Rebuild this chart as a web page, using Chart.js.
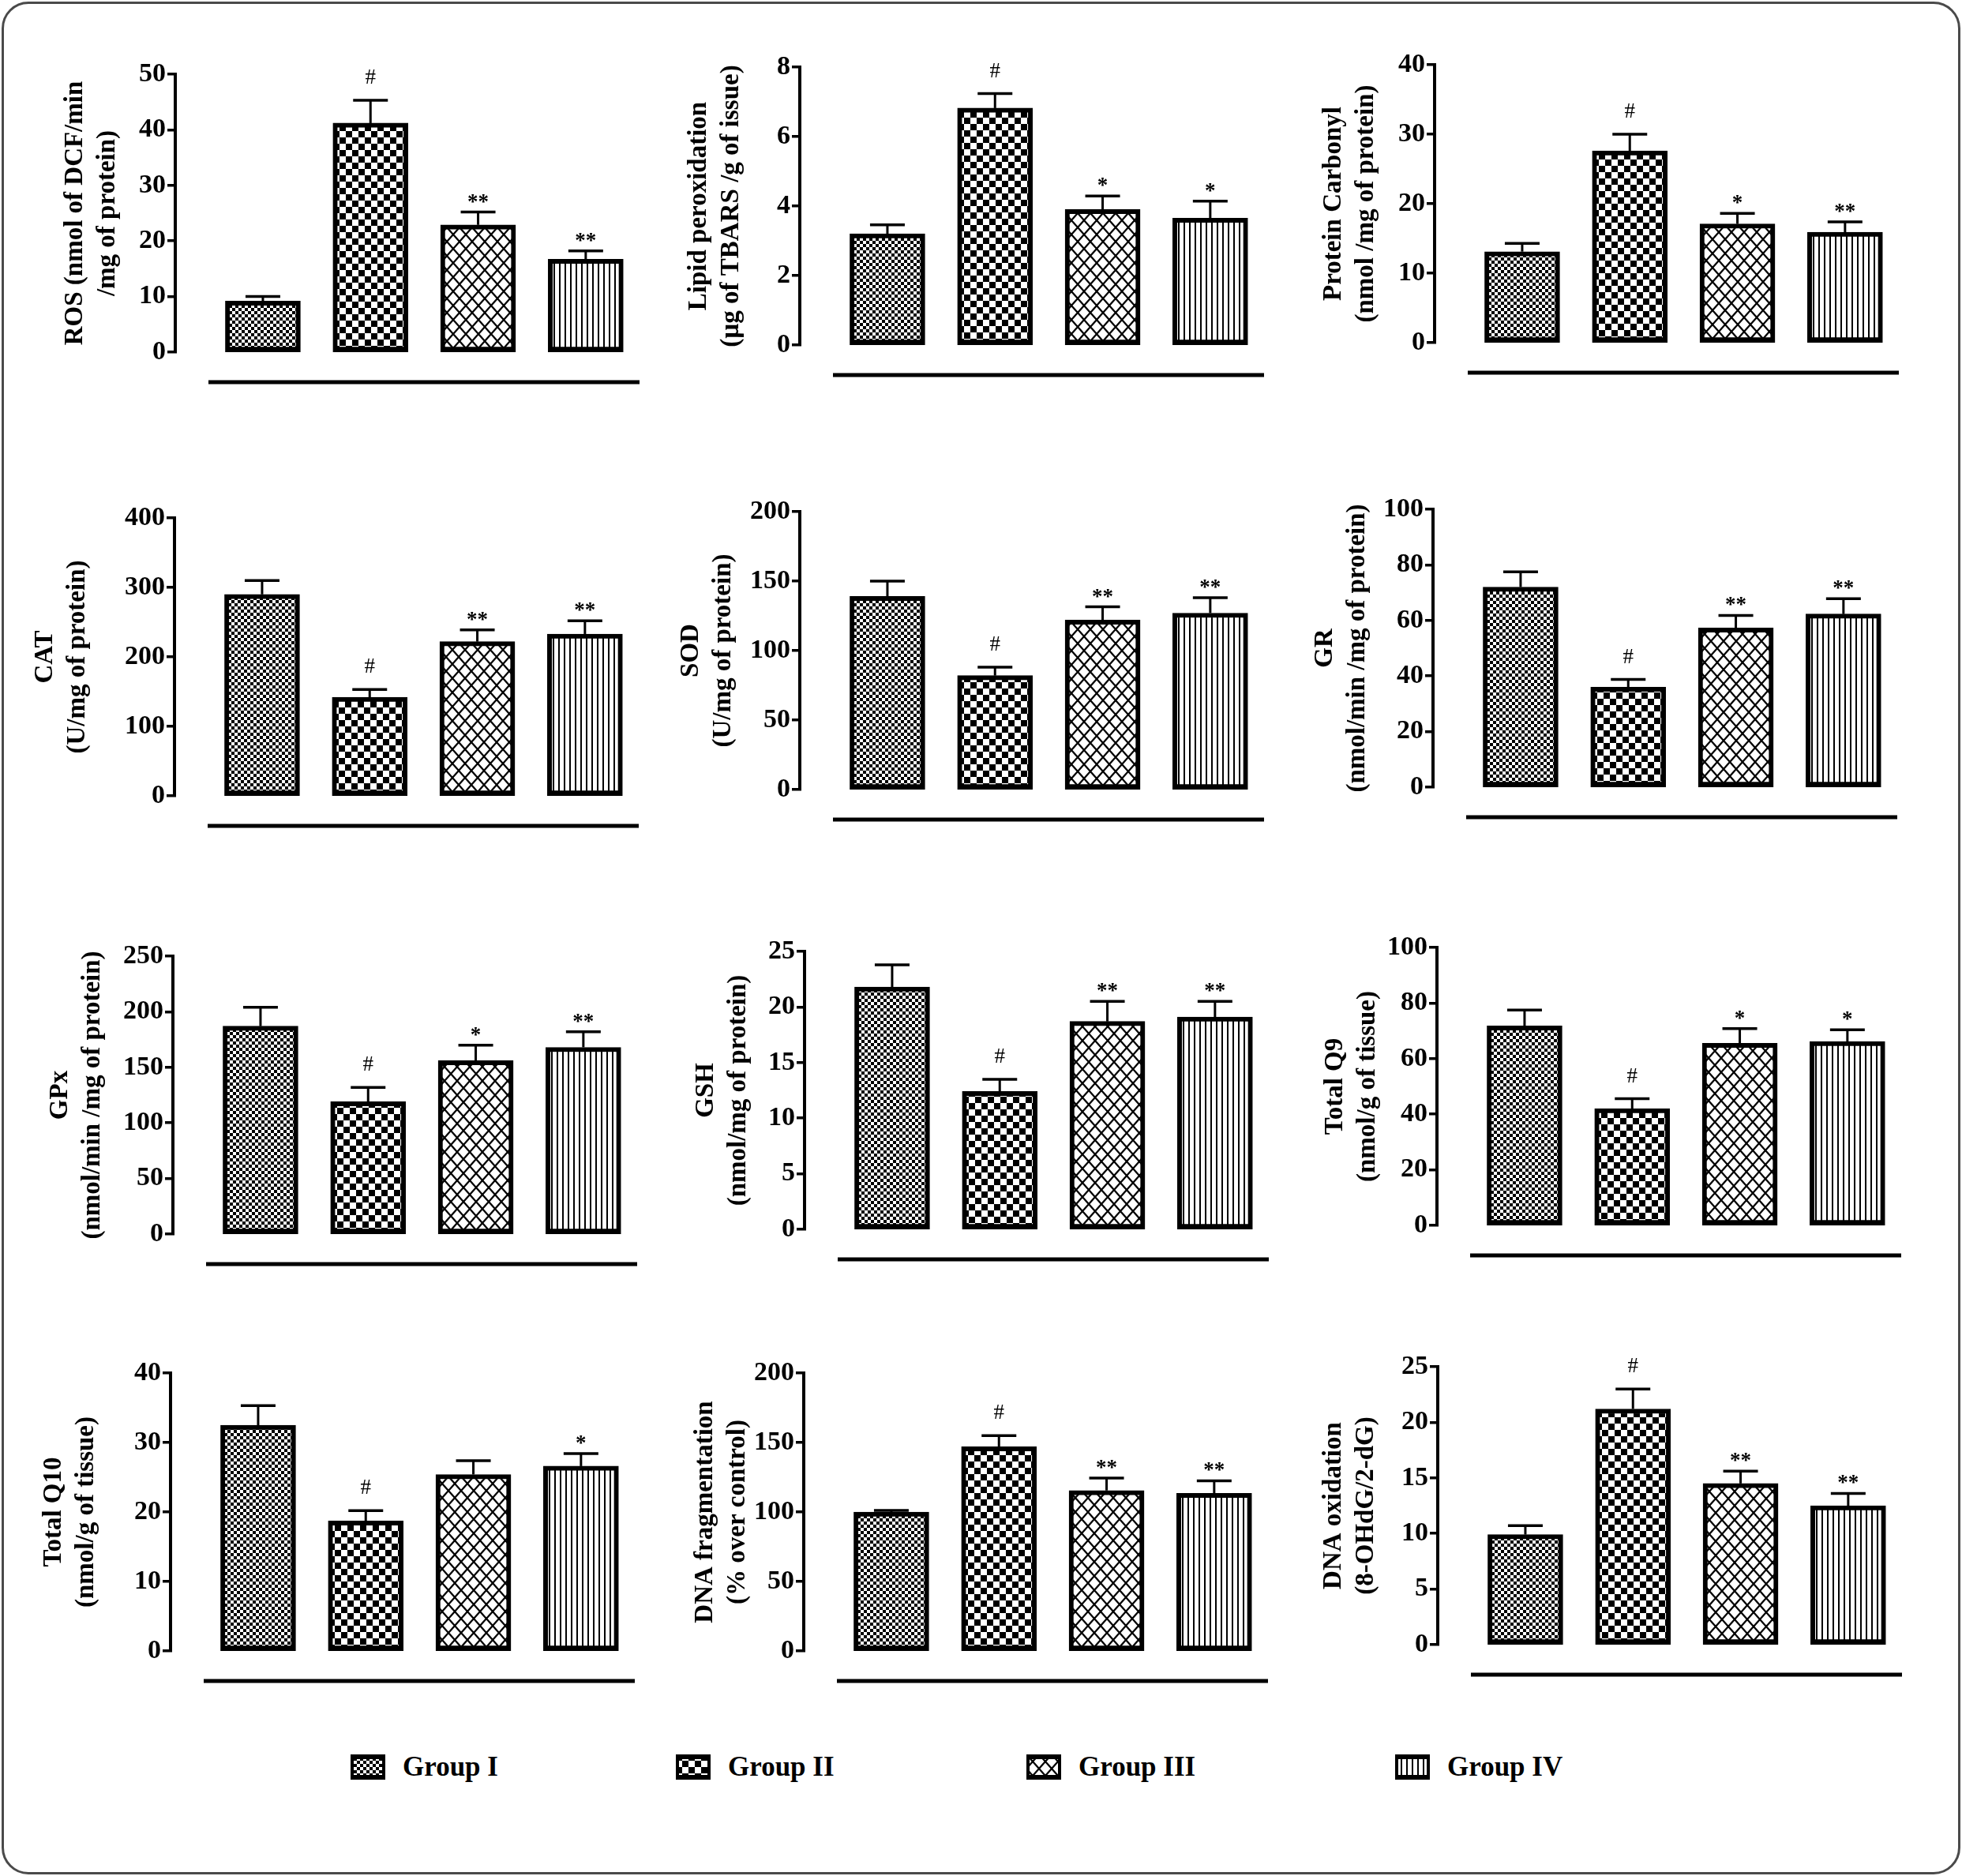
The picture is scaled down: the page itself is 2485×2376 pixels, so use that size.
<!DOCTYPE html>
<html>
<head>
<meta charset="utf-8">
<title>Oxidative stress panels</title>
<script src="https://cdn.jsdelivr.net/npm/chart.js@4.4.1/dist/chart.umd.min.js"></script>
<style>
  html, body { margin: 0; padding: 0; background: #fff; }
  #page { position: relative; width: 2485px; height: 2376px; overflow: hidden;
          font-family: "Liberation Serif", "Times New Roman", serif; }
  #frame { position: absolute; left: 2px; top: 2px; width: 2481px; height: 2372px;
           box-sizing: border-box; border: 3px solid #4a4a4a; border-radius: 34px; }
  canvas.panel { position: absolute; }
  .leg { position: absolute; display: flex; align-items: center;
         font-weight: bold; font-size: 35px; color: #000; }
  .leg canvas { margin-right: 22px; }
</style>
</head>
<body>
<div id="page">
  <div id="frame"></div>
</div>
<script>
// ---- data ----
const groups = ['Group I', 'Group II', 'Group III', 'Group IV'];

const panelTitles = [
  ['ROS (nmol of DCF/min', '/mg of protein)'],
  ['Lipid peroxidation', '(µg of TBARS /g of issue)'],
  ['Protein Carbonyl', '(nmol /mg of protein)'],
  ['CAT', '(U/mg of protein)'],
  ['SOD', '(U/mg of protein)'],
  ['GR', '(nmol/min /mg of protein)'],
  ['GPx', '(nmol/min /mg of protein)'],
  ['GSH', '(nmol/mg of protein)'],
  ['Total Q9', '(nmol/g of tissue)'],
  ['Total Q10', '(nmol/g of tissue)'],
  ['DNA fragmentation', '(% over control)'],
  ['DNA oxidation', '(8-OHdG/2-dG)']
];

const means = [
  [9.2, 41.2, 22.9, 16.7],
  [3.2, 6.82, 3.9, 3.65],
  [13.1, 27.6, 17.1, 15.9],
  [290, 142, 222, 233],
  [139, 82, 122, 127],
  [72, 36, 57.3, 62.3],
  [187, 119, 156, 168],
  [21.8, 12.4, 18.7, 19.1],
  [71.8, 42, 65.5, 66.2],
  [32.5, 18.7, 25.4, 26.6],
  [100, 147, 115.5, 113.5],
  [9.9, 21.2, 14.5, 12.5]
];

const sems = [
  [0.8, 4.1, 2.3, 1.5],
  [0.26, 0.42, 0.39, 0.49],
  [1.2, 2.4, 1.5, 1.5],
  [20, 11, 17, 19],
  [11, 6, 9.5, 11],
  [5.5, 2.8, 4.5, 5.5],
  [17, 13, 14, 14],
  [2.0, 1.1, 1.8, 1.4],
  [5.7, 3.6, 5.3, 4.2],
  [2.8, 1.5, 2.0, 1.8],
  [1.2, 8, 9, 9],
  [0.8, 1.8, 1.1, 1.1]
];

const marks = [
  ['', '#', '**', '**'],
  ['', '#', '*', '*'],
  ['', '#', '*', '**'],
  ['', '#', '**', '**'],
  ['', '#', '**', '**'],
  ['', '#', '**', '**'],
  ['', '#', '*', '**'],
  ['', '#', '**', '**'],
  ['', '#', '*', '*'],
  ['', '#', '', '*'],
  ['', '#', '**', '**'],
  ['', '#', '**', '**']
];

const yMax  = [50, 8, 40, 400, 200, 100, 250, 25, 100, 40, 200, 25];
const yStep = [10, 2, 10, 100, 50, 20, 50, 5, 20, 10, 50, 5];

// ---- layout (page pixels) ----
const axisX  = [222, 1013, 1817, 221, 1013, 1815, 219, 1019, 1820, 216, 1018, 1821];
const axisTop = [94, 85, 82, 656, 648, 645, 1211, 1205, 1200, 1739, 1739, 1731];
const titlePad = [53, 52, 52, 16, 42, 43, 37, 55, 51, 32, 55, 48];

const AXIS_W = 200, AREA_W = 588, AREA_H = 352;
const PAD = { top: 40, right: 12, bottom: 110, left: 0 };

Chart.defaults.font.family = '"Liberation Serif", "Times New Roman", serif';
Chart.defaults.color = '#000';

// hatch fills, one per group
function makeTile(kind) {
  const c = document.createElement('canvas');
  const g = c.getContext('2d');
  if (kind === 0) {
    c.width = c.height = 8;
    g.fillStyle = '#fff'; g.fillRect(0, 0, 8, 8);
    g.fillStyle = '#000'; g.fillRect(0, 0, 4, 4); g.fillRect(4, 4, 4, 4);
  } else if (kind === 1) {
    c.width = c.height = 16;
    g.fillStyle = '#fff'; g.fillRect(0, 0, 16, 16);
    g.fillStyle = '#000'; g.fillRect(0, 0, 8, 8); g.fillRect(8, 8, 8, 8);
  } else if (kind === 2) {
    c.width = 16; c.height = 18;
    g.fillStyle = '#fff'; g.fillRect(0, 0, 16, 18);
    g.strokeStyle = '#000'; g.lineWidth = 2.2;
    for (let k = -1; k <= 1; k++) {
      g.beginPath();
      g.moveTo(k * 16, 0); g.lineTo(k * 16 + 16, 18);
      g.moveTo(k * 16 + 16, 0); g.lineTo(k * 16, 18);
      g.stroke();
    }
  } else {
    c.width = 7; c.height = 4;
    g.fillStyle = '#fff'; g.fillRect(0, 0, 7, 4);
    g.fillStyle = '#000'; g.fillRect(0, 0, 2, 4);
  }
  return c;
}
const tiles = [0, 1, 2, 3].map(makeTile);

const page = document.getElementById('page');

function markFont(m) { return m === '#' ? 'normal 27px "Liberation Serif", serif' : 'bold 27px "Liberation Serif", serif'; }

panelTitles.forEach((title, p) => {
  const canvas = document.createElement('canvas');
  canvas.className = 'panel';
  canvas.width = PAD.left + AXIS_W + AREA_W + PAD.right;
  canvas.height = PAD.top + AREA_H + PAD.bottom;
  page.appendChild(canvas);
  const ctx = canvas.getContext('2d');
  const fills = tiles.map(t => ctx.createPattern(t, 'repeat'));

  // error bars, significance marks and the rule under each panel
  const extras = {
    id: 'extras' + p,
    afterDatasetsDraw(chart) {
      const { ctx, chartArea, scales: { y } } = chart;
      const meta = chart.getDatasetMeta(0);
      ctx.save();
      ctx.strokeStyle = '#000';
      ctx.fillStyle = '#000';
      meta.data.forEach((bar, i) => {
        const yb = y.getPixelForValue(means[p][i]);
        const yt = y.getPixelForValue(means[p][i] + sems[p][i]);
        ctx.lineWidth = 3;
        ctx.beginPath();
        ctx.moveTo(bar.x, yb); ctx.lineTo(bar.x, yt);
        ctx.stroke();
        ctx.lineWidth = 3.5;
        ctx.beginPath();
        ctx.moveTo(bar.x - 22, yt); ctx.lineTo(bar.x + 22, yt);
        ctx.stroke();
        const m = marks[p][i];
        if (m) {
          ctx.font = markFont(m);
          ctx.textAlign = 'center';
          ctx.textBaseline = 'middle';
          ctx.fillText(m, bar.x, m === '#' ? yt - 28 : yt - 12);
        }
      });
      ctx.lineWidth = 5;
      ctx.beginPath();
      ctx.moveTo(chartArea.left + 42, chartArea.bottom + 38);
      ctx.lineTo(chartArea.right, chartArea.bottom + 38);
      ctx.stroke();
      ctx.restore();
    }
  };

  const chart = new Chart(ctx, {
    type: 'bar',
    data: {
      datasets: [{
        label: title.join(' '),
        data: groups.map((g, i) => ({ x: i, y: means[p][i] })),
        backgroundColor: fills,
        borderColor: '#000',
        borderWidth: { top: 6, left: 6, right: 6, bottom: 10 },
        borderSkipped: false,
        barThickness: 95,
        base: -yMax[p] * 3 / AREA_H
      }]
    },
    options: {
      responsive: false,
      devicePixelRatio: 1,
      animation: false,
      layout: { padding: PAD },
      plugins: { legend: { display: false }, tooltip: { enabled: false } },
      scales: {
        x: { type: 'linear', min: -0.814, max: 3.5, offset: false, display: false },
        y: {
          min: 0,
          max: yMax[p],
          afterFit: s => { s.width = AXIS_W; },
          ticks: {
            stepSize: yStep[p],
            padding: 2,
            font: { size: 34, weight: 'bold' },
            color: '#000'
          },
          grid: { drawOnChartArea: false, drawTicks: true, tickLength: 10, color: '#000', lineWidth: 3.5 },
          border: { display: true, color: '#000', width: 4 },
          title: {
            display: true,
            text: title,
            color: '#000',
            font: { size: 33, weight: 'bold', lineHeight: 41 / 33 },
            padding: { top: titlePad[p], bottom: 0 }
          }
        }
      }
    },
    plugins: [extras]
  });

  const ca = chart.chartArea;
  canvas.style.left = (axisX[p] - ca.left) + 'px';
  canvas.style.top = (axisTop[p] - ca.top) + 'px';
});

// legend
const legendX = [444, 856, 1300, 1767];
const legendY = 2240;
groups.forEach((g, i) => {
  const item = document.createElement('div');
  item.className = 'leg';
  item.style.left = legendX[i] + 'px';
  item.style.top = (legendY - 22) + 'px';
  const sw = document.createElement('canvas');
  sw.width = 44; sw.height = 32;
  const c = sw.getContext('2d');
  c.fillStyle = c.createPattern(tiles[i], 'repeat');
  c.fillRect(0, 0, 44, 32);
  c.fillStyle = '#000';
  c.fillRect(0, 0, 44, 6); c.fillRect(0, 26, 44, 6);
  c.fillRect(0, 0, 4, 32); c.fillRect(40, 0, 4, 32);
  const label = document.createElement('span');
  label.textContent = g;
  item.appendChild(sw);
  item.appendChild(label);
  page.appendChild(item);
});
</script>
</body>
</html>
